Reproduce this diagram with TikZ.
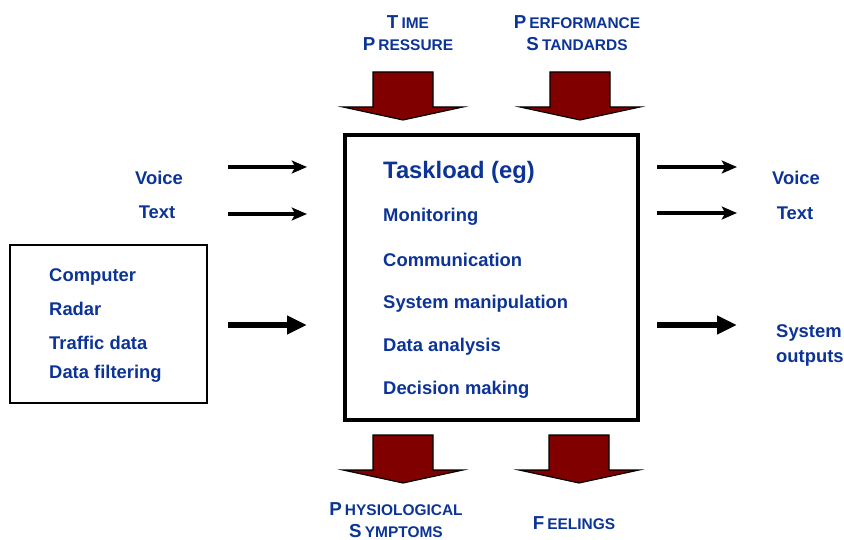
\documentclass[tikz,border=0pt]{standalone}
\usepackage{fontspec}
\setmainfont{Liberation Sans}
\usetikzlibrary{positioning, arrows.meta}

\definecolor{labelblue}{RGB}{12,52,150}
\definecolor{arrowred}{RGB}{128,0,0}
\tikzset{
  lbl/.style={text=labelblue, font=\bfseries\fontsize{15.7}{21}\selectfont, inner sep=0pt},
  capslbl/.style={text=labelblue, font=\bfseries\fontsize{16}{18.7}\selectfont, inner sep=0pt, align=center},
  thinarrow/.style={line width=2.6pt, -{Stealth[length=13pt, width=11pt, inset=3pt]}},
  thickarrow/.style={line width=5.5pt, -{Triangle[length=17pt, width=15pt]}},
  fatarrow/.style={draw=black, fill=arrowred, line width=1pt},
}
\newcommand{\capword}[2]{{\fontsize{16}{18.7}\selectfont #1}\,{\fontsize{13.2}{18.7}\selectfont #2}}

\begin{document}
\begin{tikzpicture}[x=0.03cm, y=-0.03cm]
  \useasboundingbox (0,0) rectangle (844,540);
  % Boxes
  \node[draw, line width=3.2pt, minimum width=8.79cm, minimum height=8.55cm] (taskbox) at (491.5,277.5) {};
  \node[draw, line width=2.4pt, minimum width=5.91cm, minimum height=4.74cm] (sourcebox) at (108.5,324) {};
  % Taskload list
  \node[lbl, anchor=west, font=\bfseries\fontsize{20.3}{24}\selectfont] (taskload) at (383,172) {Taskload (eg)};
  \node[lbl, anchor=west] (monitor) at (383,217) {Monitoring};
  \node[lbl, anchor=west] (comms) at (383,260) {Communication};
  \node[lbl, anchor=west] (sysman) at (383,304) {System manipulation};
  \node[lbl, anchor=west] (analysis) at (383,347) {Data analysis};
  \node[lbl, anchor=west] (decision) at (383,390) {Decision making};
  % Sources
  \node[lbl, anchor=west] (computer) at (49,277) {Computer};
  \node[lbl, anchor=west] (radar) at (49,309) {Radar};
  \node[lbl, anchor=west] (traffic) at (49,343) {Traffic data};
  \node[lbl, anchor=west] (filter) at (49,374) {Data filtering};
  % Inputs and outputs
  \node[lbl] (voicein) at (159,178) {Voice};
  \node[lbl] (textin) at (157,212) {Text};
  \node[lbl] (voiceout) at (796,178) {Voice};
  \node[lbl] (textout) at (795,213) {Text};
  \node[lbl, anchor=west, align=left] (sysout) at (776,345.5) {System\\outputs};
  % Arrow end points
  \coordinate (vinA) at (228,167);  \coordinate (vinB) at (307,167);
  \coordinate (tinA) at (228,214);  \coordinate (tinB) at (307,214);
  \coordinate (sinA) at (228,325);  \coordinate (sinB) at (307,325);
  \coordinate (voutA) at (657,167); \coordinate (voutB) at (737,167);
  \coordinate (toutA) at (657,213); \coordinate (toutB) at (737,213);
  \coordinate (soutA) at (657,325); \coordinate (soutB) at (737,325);
  \draw[thinarrow] (vinA) -- (vinB);
  \draw[thinarrow] (tinA) -- (tinB);
  \draw[thickarrow] (sinA) -- (sinB);
  \draw[thinarrow] (voutA) -- (voutB);
  \draw[thinarrow] (toutA) -- (toutB);
  \draw[thickarrow] (soutA) -- (soutB);
  % Fat downward arrows
  \foreach \cx/\ty in {403/72, 580/72, 403/435, 579/435}
    \draw[fatarrow] ({\cx-30},\ty) -- ({\cx+30},\ty) -- ({\cx+30},{\ty+35}) -- ({\cx+60},{\ty+35})
      -- (\cx,{\ty+48}) -- ({\cx-60},{\ty+35}) -- ({\cx-30},{\ty+35}) -- cycle;
  % Influences and outcomes
  \node[capslbl] (timep) at (408,33) {\capword{T}{IME}\\\capword{P}{RESSURE}};
  \node[capslbl] (perfstd) at (577,33) {\capword{P}{ERFORMANCE}\\\capword{S}{TANDARDS}};
  \node[capslbl] (physio) at (396,520) {\capword{P}{HYSIOLOGICAL}\\\capword{S}{YMPTOMS}};
  \node[capslbl] (feelings) at (574,523) {\capword{F}{EELINGS}};
\end{tikzpicture}
\end{document}
